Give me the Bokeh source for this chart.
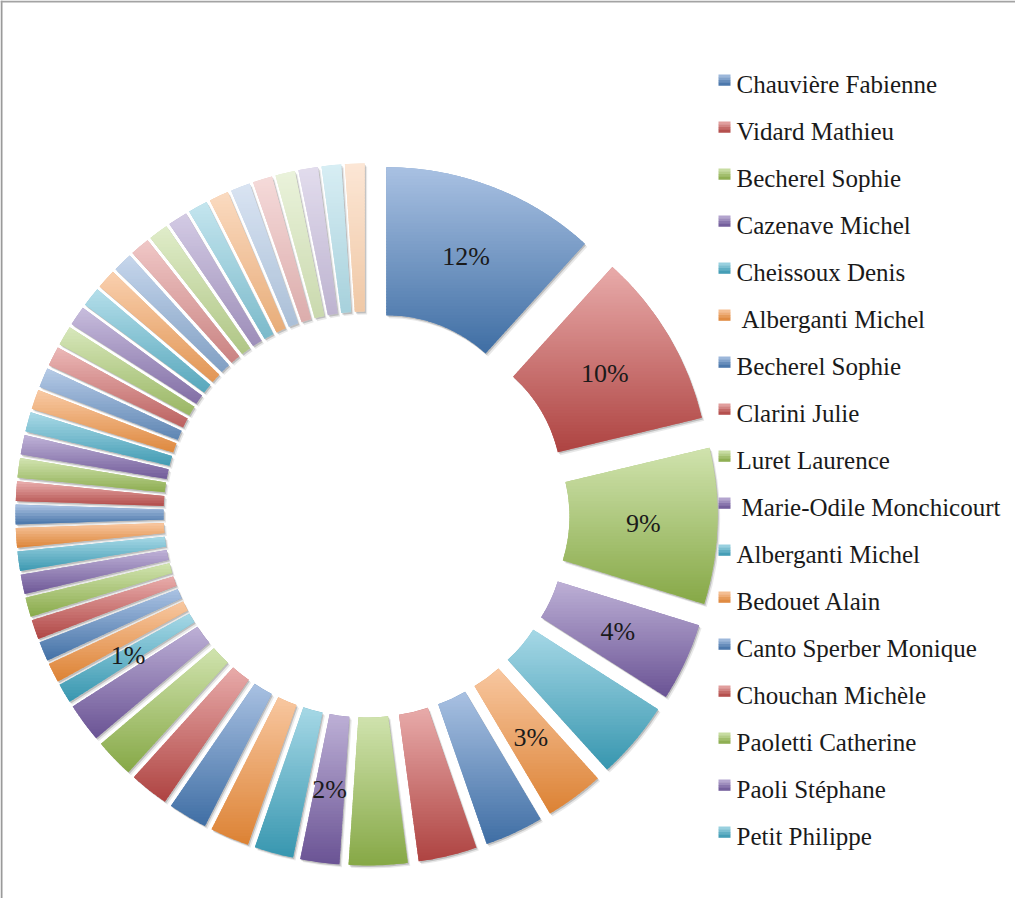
import numpy as np
from bokeh.plotting import figure
from bokeh.models import Range1d, ColumnDataSource
from bokeh.embed import file_html
from bokeh.resources import INLINE
from bokeh.core.properties import value

# ---------------- data ----------------
legend_names = [
    "Chauvière Fabienne", "Vidard Mathieu", "Becherel Sophie", "Cazenave Michel",
    "Cheissoux Denis", " Alberganti Michel", "Becherel Sophie", "Clarini Julie",
    "Luret Laurence", " Marie-Odile Monchicourt", "Alberganti Michel", "Bedouet Alain",
    "Canto Sperber Monique", "Chouchan Michèle", "Paoletti Catherine", "Paoli Stéphane",
    "Petit Philippe",
]

slice_values = [
    11, 9, 8, 4, 4, 3, 3, 3, 3, 2, 2, 2, 2, 2, 2, 2,
    1, 1, 1, 1, 1, 1, 1, 1, 1, 1, 1, 1, 1, 1, 1, 1,
    1, 1, 1, 1, 1, 1, 1, 1, 1, 1, 1, 1, 1, 1, 1, 1,
]

labelled_slices = [0, 1, 2, 3, 5, 9, 16]

palette_top = ["#A9C1E2", "#E8ABAA", "#D0E3AE", "#BDB0D6", "#A6D8E6", "#F8C7A0"]
palette_bottom = ["#3F6EA4", "#AE4341", "#86A846", "#6A5394", "#3796AF", "#DC8234"]
cycle_tint = [0.0, 0.0, 0.0, 0.02, 0.05, 0.16, 0.34, 0.56]

# ---------------- geometry / style ----------------
W, H = 1015, 898
CX, CY = 366.0, 384.0
R_OUT, R_IN, EXPLODE = 296.0, 148.0, 55.0
FONT = "Liberation Serif"


def hex2rgb(h):
    return np.array([int(h[i:i + 2], 16) for i in (1, 3, 5)], float)


def rgb2hex(c):
    c = np.clip(np.round(c), 0, 255).astype(int)
    return "#%02x%02x%02x" % tuple(c)


def slice_color(i, t):
    k = i % 6
    cyc = min(i // 6, len(cycle_tint) - 1)
    c = hex2rgb(palette_top[k]) * (1 - t) + hex2rgb(palette_bottom[k]) * t
    tint = cycle_tint[cyc]
    return rgb2hex(c + (255 - c) * tint)


vals = np.array(slice_values, float)
frac = vals / vals.sum()
ends = np.cumsum(frac) * 2 * np.pi
starts = ends - frac * 2 * np.pi
mids = (starts + ends) / 2
ox = CX + EXPLODE * np.sin(mids)
oy = CY + EXPLODE * np.cos(mids)

p = figure(width=W, height=H, x_range=Range1d(0, W), y_range=Range1d(0, H),
           x_axis_type=None, y_axis_type=None, toolbar_location=None,
           output_backend="svg", min_border=0, outline_line_color=None,
           background_fill_color="white", border_fill_color="white")

# shadows
for (dx, dy, a) in [(2.5, -3.0, 0.09), (1.2, -1.6, 0.18)]:
    p.annular_wedge(x=ox + dx, y=oy + dy, inner_radius=R_IN, outer_radius=R_OUT,
                    start_angle=np.pi / 2 - ends, end_angle=np.pi / 2 - starts,
                    fill_color="black", fill_alpha=a, line_color=None)

# base fill
p.annular_wedge(x=ox, y=oy, inner_radius=R_IN, outer_radius=R_OUT,
                start_angle=np.pi / 2 - ends, end_angle=np.pi / 2 - starts,
                fill_color=[slice_color(i, 0.5) for i in range(len(vals))],
                line_color=None)


def sector(i):
    n = max(8, int(np.degrees(ends[i] - starts[i]) * 2))
    a = np.linspace(starts[i], ends[i], n)
    xo = ox[i] + R_OUT * np.sin(a)
    yo = oy[i] + R_OUT * np.cos(a)
    xi = ox[i] + R_IN * np.sin(a[::-1])
    yi = oy[i] + R_IN * np.cos(a[::-1])
    return list(zip(np.r_[xo, xi], np.r_[yo, yi]))


def clip(poly, yc, keep_above):
    out = []
    for j in range(len(poly)):
        cur, prev = poly[j], poly[j - 1]
        cin = cur[1] >= yc if keep_above else cur[1] <= yc
        pin = prev[1] >= yc if keep_above else prev[1] <= yc
        if cin:
            if not pin:
                t = (yc - prev[1]) / (cur[1] - prev[1])
                out.append((prev[0] + t * (cur[0] - prev[0]), yc))
            out.append(cur)
        elif pin:
            t = (yc - prev[1]) / (cur[1] - prev[1])
            out.append((prev[0] + t * (cur[0] - prev[0]), yc))
    return out


bx, by, bc = [], [], []
for i in range(len(vals)):
    poly = sector(i)
    ys = [q[1] for q in poly]
    ymin, ymax = min(ys), max(ys)
    nb = max(3, int(np.ceil((ymax - ymin) / 3.0)))
    h = (ymax - ymin) / nb
    for j in range(nb):
        ytop = ymax - j * h + 0.01
        ybot = ymax - (j + 1) * h - 0.9
        part = clip(clip(poly, ytop, False), ybot, True)
        if len(part) >= 3:
            bx.append([q[0] for q in part])
            by.append([q[1] for q in part])
            bc.append(slice_color(i, (j + 0.5) / nb))

p.patches(xs="xs", ys="ys", fill_color="c", line_color=None,
          source=ColumnDataSource(dict(xs=bx, ys=by, c=bc)))

# percentage labels
R_LAB = (R_IN + R_OUT) / 2 + EXPLODE
lab_x = [CX + R_LAB * np.sin(mids[i]) for i in labelled_slices]
lab_y = [CY + R_LAB * np.cos(mids[i]) for i in labelled_slices]
lab_t = ["%d%%" % round(frac[i] * 100) for i in labelled_slices]
p.text(x=lab_x, y=lab_y, text=lab_t, text_font=value(FONT), text_font_size="26px",
       text_align="center", text_baseline="middle", text_color="#1a1a1a")

# legend
qx0, qx1, qy0, qy1, qc = [], [], [], [], []
tx, ty, tt = [], [], []
for i, name in enumerate(legend_names):
    top = 824 - 47 * i
    bot = 813 - 47 * i
    nbq = 4
    for j in range(nbq):
        qx0.append(718)
        qx1.append(730)
        qy1.append(top - j * (top - bot) / nbq)
        qy0.append(top - (j + 1) * (top - bot) / nbq - 0.3)
        qc.append(slice_color(i, (j + 0.5) / nbq))
    tx.append(736 + (5 if name.startswith(" ") else 0))
    ty.append(814 - 47 * i)
    tt.append(name.strip())
p.quad(left=qx0, right=qx1, bottom=qy0, top=qy1, fill_color=qc, line_color=None)
p.text(x=tx, y=ty, text=tt, text_font=value(FONT), text_font_size="25px",
       text_align="left", text_baseline="middle", text_color="#1a1a1a")

# frame lines (top and left)
p.line([1, 1], [0, H], line_color="#9a9a9a", line_width=2)
p.line([0, W], [897, 897], line_color="#a3a3a3", line_width=2)

open("out.html", "w").write(file_html(p, INLINE))
